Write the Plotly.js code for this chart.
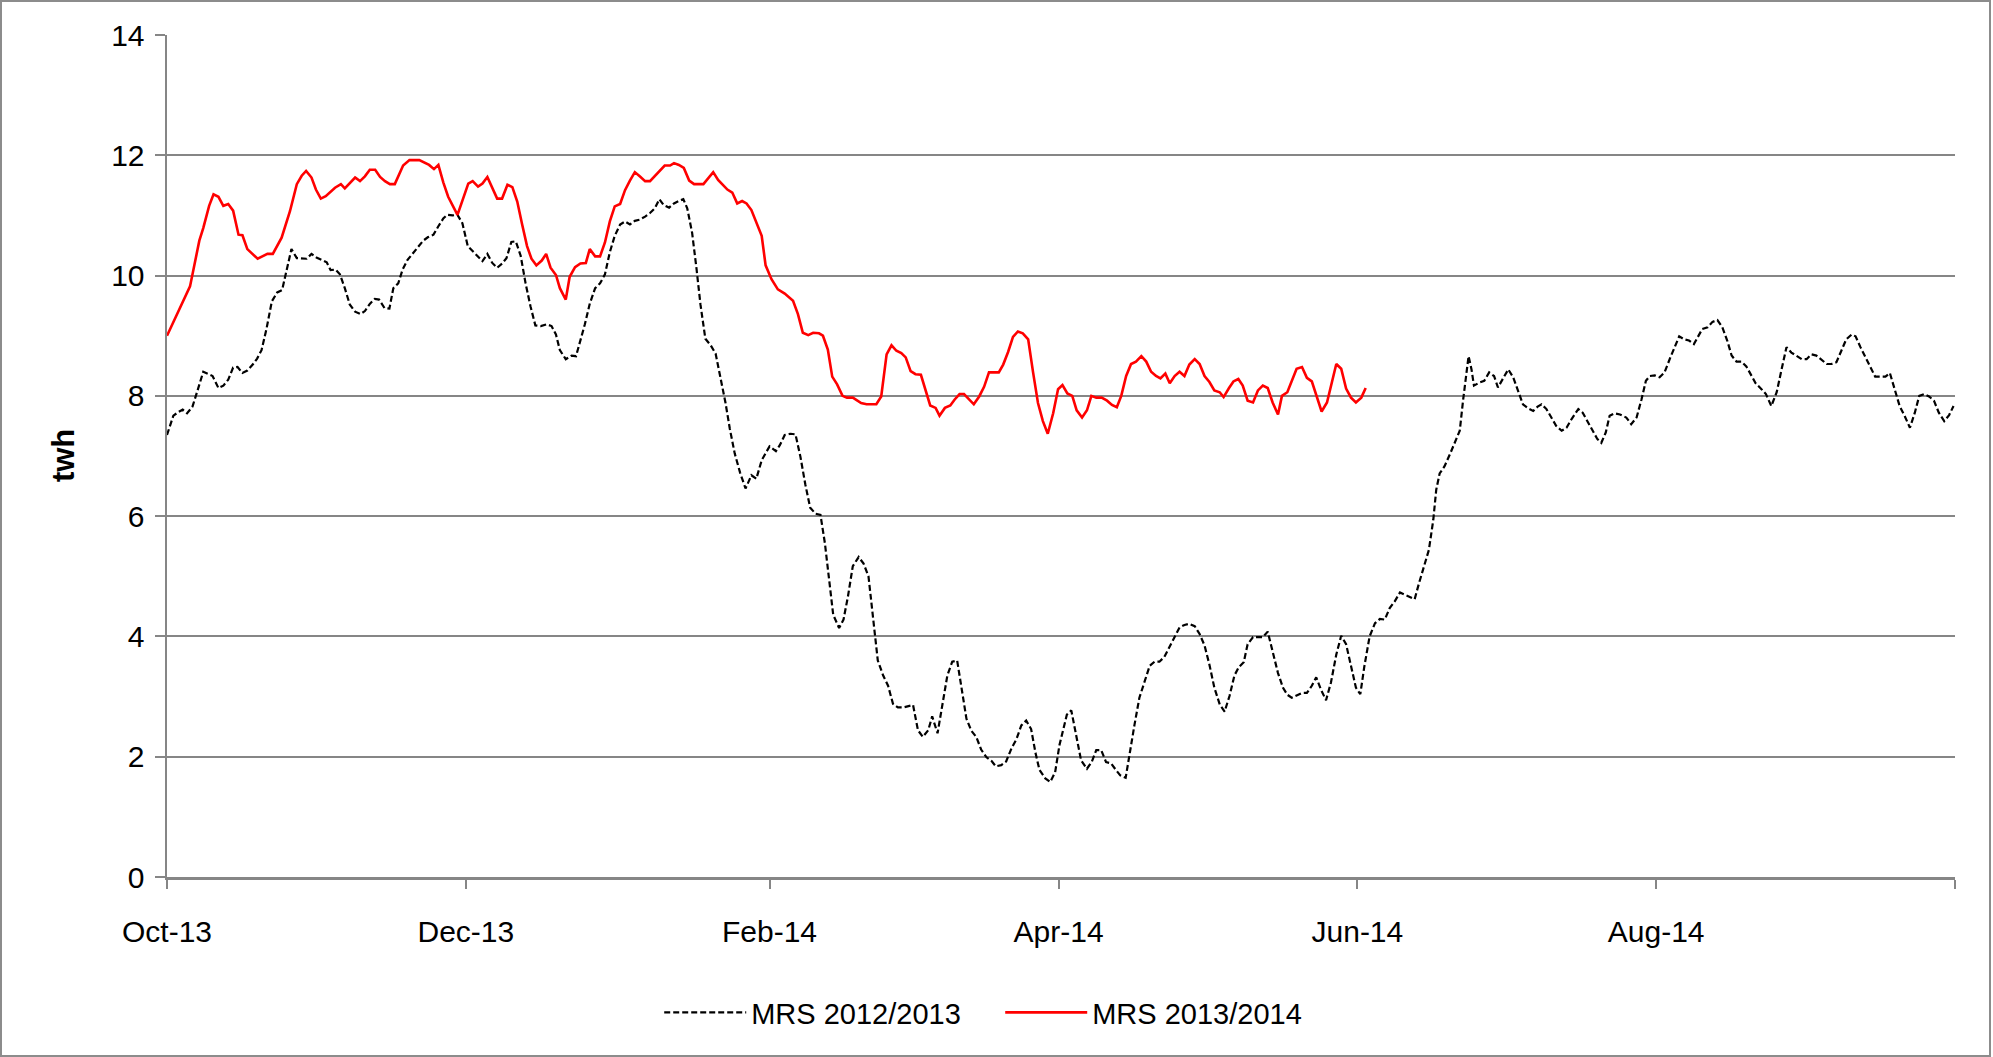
<!DOCTYPE html>
<html>
<head>
<meta charset="utf-8">
<script src="https://cdn.plot.ly/plotly-3.0.1.min.js"></script>
<style>
  html, body { margin: 0; padding: 0; background: #ffffff; }
  #wrap { position: relative; width: 1993px; height: 1057px; }
  #chart { position: absolute; left: 0; top: 0; width: 1993px; height: 1057px; }
  #frame { position: absolute; left: 0; top: 0; width: 1991px; height: 1057px; box-sizing: border-box; border: 2px solid #8c8c8c; pointer-events: none; }
</style>
</head>
<body>
<div id="wrap"><div id="chart"></div><div id="frame"></div></div>
<script>
// Season start (day 0 of both series) and axis end
const seasonStart = '2013-10-01';
const seasonEnd = '2014-10-01';

// Tick positions and labels (every second month)
const tickDates = ['2013-10-01', '2013-12-01', '2014-02-01', '2014-04-01', '2014-06-01', '2014-08-01', '2014-10-01'];
const tickLabels = ['Oct-13', 'Dec-13', 'Feb-14', 'Apr-14', 'Jun-14', 'Aug-14', ''];

// MRS 2012/2013 (black dashed): days since season start, and twh
const days1213 = [0,1.3,2.3,3.2,4.1,5.2,6.2,7.4,9.3,10.5,11.5,12.5,13.5,14.4,15.4,16.4,17.5,18.4,19.3,20.3,21.4,22.5,23.5,24.4,25.4,26.5,27.5,28.5,29.5,30.5,31.6,32.6,33.4,34.4,35.3,36.3,37.3,38.4,39.5,40.4,41.4,42.4,43.3,44.4,45.4,46.2,47.2,48.1,49.1,50.1,51.2,52.3,53.3,54.4,55.4,56.4,57.2,58.3,59.3,60.3,61.4,
62.3,63.3,64.4,65.4,66.4,67.4,68.4,69.3,70.3,71.2,72.2,73.2,74.2,75.2,76.3,77.5,78.5,79.4,80.2,81.4,82.6,83.5,84.4,85.3,86.3,87.4,88.4,89.4,90.4,91.4,92.5,93.5,94.5,95.5,96.5,97.6,98.6,99.6,100.5,101.4,102.5,103.5,104.5,105.4,106.2,107.2,108.1,108.9,109.9,111.0,112.0,113.0,114.0,114.9,115.9,117.0,118.1,119.3,120.3,121.4,
123.0,124.3,125.1,126.1,127.3,128.3,129.3,130.3,131.3,132.4,133.4,134.3,135.1,136.0,137.2,138.1,139.0,140.0,141.2,142.2,143.2,144.1,145.1,146.2,147.2,148.2,149.2,150.3,152.3,153.3,154.3,155.4,156.2,157.3,158.3,159.3,160.3,161.3,162.3,163.2,164.2,165.2,166.2,167.3,168.3,169.2,170.3,171.3,172.4,173.4,174.4,175.4,176.4,177.3,178.1,179.3,180.3,181.3,182.2,
183.7,184.6,185.6,186.6,187.8,188.8,189.7,190.7,191.7,192.7,193.8,194.6,195.7,196.6,197.5,198.5,199.5,200.6,201.6,202.6,203.6,204.6,205.7,206.7,207.7,208.7,209.8,210.8,211.8,212.8,213.8,214.9,215.9,216.9,217.9,218.8,219.8,220.6,221.7,222.7,223.7,224.7,225.7,226.8,227.8,228.7,229.6,230.6,231.7,232.7,233.7,234.6,235.6,236.6,237.6,238.7,239.7,240.7,241.7,242.7,243.6,244.4,
245.5,246.6,247.6,248.6,249.6,250.6,251.7,252.7,253.7,254.7,255.6,256.6,257.6,258.5,259.1,259.8,260.8,261.9,262.9,263.9,264.6,265.3,265.7,266.3,266.8,267.9,268.9,269.9,270.9,271.7,272.8,273.8,274.8,275.8,276.8,277.9,278.9,279.8,280.6,281.6,282.6,283.6,284.7,285.7,286.7,288.1,289.0,290.0,291.0,292.0,292.8,293.7,294.5,295.5,296.6,297.9,298.9,300.0,301.0,301.9,302.7,303.7,304.7,305.7,
306.9,307.8,308.7,309.7,310.7,311.7,312.6,313.4,314.5,315.5,316.5,317.5,318.5,319.4,320.4,321.4,322.4,323.4,324.3,325.4,326.4,327.5,328.6,329.6,330.6,331.6,332.6,333.7,334.7,335.7,336.7,337.7,338.8,339.8,340.8,341.8,342.8,343.9,344.7,345.7,346.7,347.7,348.7,349.8,350.8,351.7,352.7,353.7,354.7,355.8,356.8,357.7,358.7,359.7,360.7,361.7,362.8,363.8,364.7];
const twh1213 = [7.35,7.67,7.73,7.77,7.71,7.82,8.08,8.40,8.33,8.13,8.17,8.27,8.47,8.48,8.38,8.42,8.52,8.62,8.76,9.11,9.57,9.72,9.76,10.06,10.44,10.29,10.28,10.28,10.36,10.30,10.26,10.22,10.09,10.10,10.02,9.79,9.52,9.40,9.36,9.41,9.53,9.61,9.60,9.46,9.45,9.79,9.87,10.10,10.26,10.36,10.47,10.58,10.64,10.68,10.82,10.95,11.01,11.00,11.01,10.87,10.49,
10.41,10.33,10.24,10.36,10.21,10.13,10.20,10.29,10.56,10.57,10.33,9.87,9.49,9.17,9.16,9.19,9.16,9.02,8.76,8.61,8.67,8.66,8.92,9.19,9.53,9.79,9.87,10.02,10.39,10.66,10.85,10.90,10.85,10.91,10.93,10.98,11.04,11.12,11.27,11.17,11.13,11.20,11.24,11.27,11.12,10.71,10.11,9.52,8.95,8.84,8.70,8.32,7.89,7.45,7.04,6.72,6.46,6.68,6.62,6.93,
7.16,7.08,7.18,7.35,7.37,7.36,6.99,6.53,6.14,6.04,6.02,5.55,4.96,4.36,4.14,4.28,4.66,5.17,5.32,5.21,5.00,4.28,3.60,3.35,3.18,2.88,2.82,2.82,2.86,2.44,2.33,2.44,2.67,2.39,2.88,3.35,3.58,3.60,3.09,2.63,2.43,2.33,2.12,1.99,1.93,1.84,1.86,1.92,2.14,2.29,2.52,2.60,2.46,2.06,1.78,1.64,1.58,1.74,2.20,
2.70,2.77,2.36,1.94,1.80,1.92,2.11,2.11,1.91,1.89,1.77,1.69,1.65,2.11,2.53,2.98,3.25,3.51,3.58,3.58,3.66,3.82,4.01,4.15,4.19,4.21,4.17,4.04,3.85,3.53,3.15,2.87,2.75,3.01,3.35,3.49,3.57,3.87,3.99,3.99,3.99,4.08,3.73,3.39,3.15,3.03,2.98,3.02,3.06,3.06,3.18,3.32,3.11,2.94,3.23,3.70,4.01,3.87,3.49,3.15,3.04,3.49,
4.00,4.22,4.29,4.28,4.47,4.58,4.73,4.69,4.66,4.62,4.89,5.17,5.44,5.94,6.44,6.71,6.83,7.03,7.22,7.42,7.94,8.39,8.66,8.44,8.17,8.22,8.25,8.39,8.33,8.14,8.31,8.44,8.31,8.08,7.86,7.79,7.75,7.82,7.86,7.78,7.64,7.50,7.42,7.47,7.61,7.78,7.72,7.58,7.42,7.28,7.22,7.39,7.67,7.71,7.69,7.64,7.53,7.64,7.94,8.25,8.33,8.34,8.31,8.39,
8.64,8.81,8.99,8.94,8.92,8.86,8.99,9.11,9.14,9.23,9.26,9.14,8.92,8.67,8.57,8.57,8.49,8.34,8.21,8.12,8.03,7.83,8.06,8.44,8.81,8.72,8.67,8.61,8.61,8.69,8.67,8.61,8.53,8.53,8.56,8.75,8.94,9.02,8.99,8.81,8.64,8.47,8.32,8.32,8.32,8.38,8.11,7.83,7.67,7.47,7.72,8.00,8.03,7.99,7.92,7.72,7.58,7.68,7.83];

// MRS 2013/2014 (red solid): days since season start, and twh
const days1314 = [0,4.7,6.6,7.4,8.6,9.5,10.5,11.5,12.5,13.5,14.6,15.4,16.4,18.5,20.5,21.6,23.4,25.1,26.5,27.5,28.4,29.5,30.4,31.4,32.4,34.3,35.5,36.3,38.4,39.4,40.4,41.4,42.5,43.5,44.5,45.5,46.5,48.2,49.5,51.5,53.5,54.5,55.4,56.4,57.4,59.3,
61.5,62.4,63.5,64.4,65.4,66.4,67.4,68.4,69.5,70.5,71.5,72.5,73.5,74.4,75.4,76.5,77.4,78.3,79.4,80.2,81.4,82.2,83.3,84.4,85.5,86.3,87.4,88.4,89.4,90.4,91.4,92.5,93.5,94.5,95.5,96.5,97.6,98.6,99.6,100.6,101.6,102.7,103.5,104.5,105.5,106.6,107.6,109.5,110.5,111.5,112.5,113.5,114.4,115.4,116.4,117.4,118.3,119.3,120.3,121.4,122.2,
123.4,124.7,126.1,127.8,128.8,129.8,130.9,131.9,133.1,133.9,134.9,135.8,136.8,137.9,138.8,140.0,141.7,142.8,144.8,145.8,146.9,147.9,148.9,149.9,150.8,151.8,152.8,153.9,154.8,155.8,156.9,157.7,158.8,159.9,160.8,161.8,162.7,163.7,164.7,165.8,166.8,167.8,169.8,170.7,171.7,172.7,173.7,174.7,175.8,176.8,177.8,178.8,179.8,180.9,181.9,182.8,183.8,
184.8,185.7,186.8,187.8,188.7,189.7,190.8,191.9,192.9,193.9,194.8,195.8,196.8,197.8,198.9,199.9,200.9,201.9,202.8,203.8,204.7,205.7,206.7,207.7,208.7,209.8,210.8,211.8,212.8,213.8,214.9,215.7,216.8,217.7,218.7,219.6,220.6,221.7,222.7,223.7,224.7,225.7,226.8,227.6,228.7,229.7,230.6,231.7,232.7,233.7,234.7,235.7,236.8,237.8,238.7,239.7,240.7,241.7,242.7,243.8,244.7];
const twh1314 = [9.00,9.82,10.58,10.79,11.16,11.35,11.31,11.16,11.19,11.08,10.68,10.67,10.44,10.28,10.36,10.36,10.63,11.07,11.52,11.66,11.74,11.63,11.43,11.28,11.32,11.46,11.52,11.45,11.63,11.57,11.65,11.76,11.76,11.64,11.57,11.52,11.52,11.83,11.92,11.92,11.84,11.77,11.84,11.55,11.31,11.01,
11.53,11.57,11.48,11.53,11.64,11.47,11.28,11.28,11.51,11.47,11.23,10.85,10.49,10.28,10.17,10.25,10.36,10.13,10.01,9.79,9.60,9.98,10.14,10.20,10.21,10.44,10.32,10.32,10.55,10.90,11.15,11.19,11.42,11.58,11.72,11.65,11.57,11.57,11.66,11.74,11.83,11.83,11.87,11.84,11.79,11.58,11.52,11.52,11.63,11.72,11.59,11.50,11.43,11.38,11.20,11.24,11.20,11.09,10.90,10.66,10.17,
9.94,9.77,9.70,9.58,9.36,9.05,9.01,9.05,9.04,9.00,8.77,8.32,8.19,8.00,7.97,7.97,7.88,7.86,7.86,7.99,8.69,8.84,8.75,8.71,8.64,8.41,8.36,8.35,8.09,7.84,7.80,7.67,7.80,7.84,7.94,8.03,8.03,7.95,7.86,7.99,8.15,8.39,8.39,8.52,8.73,8.98,9.07,9.04,8.94,8.39,7.88,7.58,7.37,7.71,8.11,8.18,8.04,
8.00,7.76,7.64,7.76,8.00,7.97,7.97,7.92,7.85,7.81,8.00,8.33,8.53,8.57,8.66,8.57,8.40,8.33,8.29,8.37,8.21,8.33,8.40,8.33,8.52,8.61,8.53,8.33,8.23,8.09,8.06,7.98,8.13,8.24,8.28,8.17,7.92,7.89,8.09,8.17,8.13,7.89,7.69,8.00,8.06,8.26,8.45,8.48,8.30,8.24,7.98,7.74,7.89,8.21,8.53,8.45,8.12,7.97,7.89,7.97,8.13];

const seriesNames = ['MRS 2012/2013', 'MRS 2013/2014'];
const yTitle = 'twh';

const DAY_MS = 86400000;
const t0 = Date.parse(seasonStart + 'T00:00:00Z');
const toDate = d => t0 + d * DAY_MS;

const FONT = '"Liberation Sans", Arial, Helvetica, sans-serif';
const GRID = '#868686';

const traces = [
  {
    type: 'scatter', mode: 'lines', name: seriesNames[0],
    x: days1213.map(toDate), y: twh1213,
    line: { color: '#000000', width: 2.2, dash: '6px,3px' }
  },
  {
    type: 'scatter', mode: 'lines', name: seriesNames[1],
    x: days1314.map(toDate), y: twh1314,
    line: { color: '#ff0000', width: 2.6 }
  }
];

const layout = {
  width: 1993, height: 1057,
  paper_bgcolor: '#ffffff', plot_bgcolor: '#ffffff',
  margin: { l: 167, r: 37.5, t: 35, b: 179.5, pad: 0 },
  font: { family: FONT, size: 30, color: '#000000' },
  showlegend: true,
  legend: {
    orientation: 'h', x: 0.466, xanchor: 'center', y: -0.161, yanchor: 'middle',
    font: { family: FONT, size: 29, color: '#000000' },
    itemwidth: 82, entrywidth: 244, entrywidthmode: 'pixels',
    bgcolor: 'rgba(0,0,0,0)', traceorder: 'normal'
  },
  xaxis: {
    type: 'date',
    range: [seasonStart, seasonEnd],
    tickmode: 'array', tickvals: tickDates, ticktext: tickLabels,
    showgrid: false, zeroline: false,
    showline: true, linecolor: GRID, linewidth: 2.5,
    ticks: 'outside', ticklen: 9, tickwidth: 2, tickcolor: GRID,
    ticklabelstandoff: 17,
    tickfont: { family: FONT, size: 30, color: '#000000' },
    fixedrange: true
  },
  yaxis: {
    range: [0, 14], dtick: 2, tick0: 0,
    showgrid: true, gridcolor: GRID, gridwidth: 2,
    zeroline: false,
    showline: true, linecolor: GRID, linewidth: 2.5,
    ticks: 'outside', ticklen: 10, tickwidth: 2, tickcolor: GRID,
    ticklabelstandoff: 4,
    tickfont: { family: FONT, size: 30, color: '#000000' },
    fixedrange: true
  },
  annotations: [
    {
      text: '<b>' + yTitle + '</b>', xref: 'paper', yref: 'paper',
      x: -0.0581, y: 0.5, xanchor: 'center', yanchor: 'middle',
      textangle: -90, showarrow: false,
      font: { family: FONT, size: 31, color: '#000000' }
    }
  ]
};

Plotly.newPlot('chart', traces, layout, { staticPlot: true, displayModeBar: false });
</script>
</body>
</html>
